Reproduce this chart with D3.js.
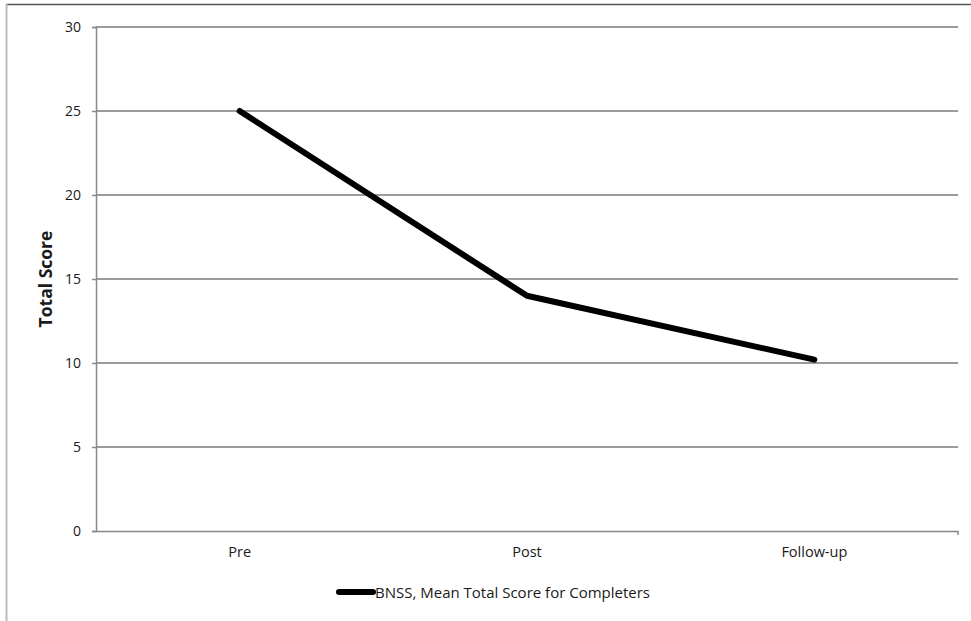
<!DOCTYPE html>
<html>
<head>
<meta charset="utf-8">
<script src="https://cdn.jsdelivr.net/npm/d3@7"></script>
<style>
  html, body { margin: 0; padding: 0; background: #fff; }
  svg { display: block; }
  text { font-family: "Open Sans", "Noto Sans", sans-serif; fill: #1a1a1a; }
</style>
</head>
<body>
<svg id="chart" width="971" height="621"></svg>
<script>
// Mean BNSS total score at each assessment point
const categories = ["Pre", "Post", "Follow-up"];
const scores = [25, 14, 10.2];
const yTicks = [0, 5, 10, 15, 20, 25, 30];
const seriesName = "BNSS, Mean Total Score for Completers";

const svg = d3.select("#chart");
const W = 971, H = 621;
const margin = { left: 96, right: 13, top: 27, bottom: 90 };

// Frame around the chart area
svg.append("line").attr("x1", 6).attr("x2", W).attr("y1", 4.5).attr("y2", 4.5)
  .attr("stroke", "#555").attr("stroke-width", 1.5);
svg.append("line").attr("x1", 6.5).attr("x2", 6.5).attr("y1", 4).attr("y2", H)
  .attr("stroke", "#bbb").attr("stroke-width", 2);

const x = d3.scaleBand().domain(categories)
  .range([margin.left, W - margin.right]);
const y = d3.scaleLinear().domain([0, 30])
  .range([H - margin.bottom, margin.top]);

// Horizontal gridlines
svg.append("g").selectAll("line").data(yTicks.filter(d => d > 0)).join("line")
  .attr("x1", margin.left).attr("x2", W - margin.right)
  .attr("y1", d => y(d)).attr("y2", d => y(d))
  .attr("stroke", "#7a7a7a").attr("stroke-width", 1.5);

// Y axis
const yAxis = d3.axisLeft(y).tickValues(yTicks).tickSize(4).tickPadding(11);
const gy = svg.append("g").attr("transform", `translate(${margin.left},0)`).call(yAxis);
gy.select(".domain").attr("stroke", "#888").attr("stroke-width", 1.5);
gy.selectAll(".tick line").attr("stroke", "#888").attr("stroke-width", 1.5);
gy.selectAll(".tick text").attr("font-size", 14).style("font-family", "'Open Sans', sans-serif").attr("fill", "#1a1a1a");

// X axis
const xAxis = d3.axisBottom(x).tickSize(0).tickPadding(16);
const gx = svg.append("g").attr("transform", `translate(0,${y(0)})`).call(xAxis);
gx.select(".domain").attr("stroke", "#888").attr("stroke-width", 1.5);
gx.selectAll(".tick text").attr("font-size", 14.5).style("font-family", "'Open Sans', sans-serif").attr("fill", "#1a1a1a");
svg.append("line").attr("x1", W - margin.right).attr("x2", W - margin.right)
  .attr("y1", y(0)).attr("y2", y(0) + 4).attr("stroke", "#888").attr("stroke-width", 1.5);

// Y axis title
svg.append("text")
  .attr("transform", `translate(52,${(y(0) + y(30)) / 2}) rotate(-90)`)
  .attr("text-anchor", "middle")
  .attr("font-size", 17.5).attr("font-weight", "bold")
  .text("Total Score");

// Series line
const line = d3.line()
  .x((d, i) => x(categories[i]) + x.bandwidth() / 2)
  .y(d => y(d));
svg.append("path").datum(scores)
  .attr("d", line)
  .attr("fill", "none").attr("stroke", "#000")
  .attr("stroke-width", 6).attr("stroke-linejoin", "round").attr("stroke-linecap", "round");

// Legend
const legend = svg.append("g").attr("transform", "translate(339,592)");
legend.append("line").attr("x1", 0).attr("x2", 34).attr("y1", 0).attr("y2", 0)
  .attr("stroke", "#000").attr("stroke-width", 6).attr("stroke-linecap", "round");
legend.append("text").attr("x", 36).attr("y", 5.5).attr("font-size", 15).text(seriesName);
</script>
</body>
</html>
